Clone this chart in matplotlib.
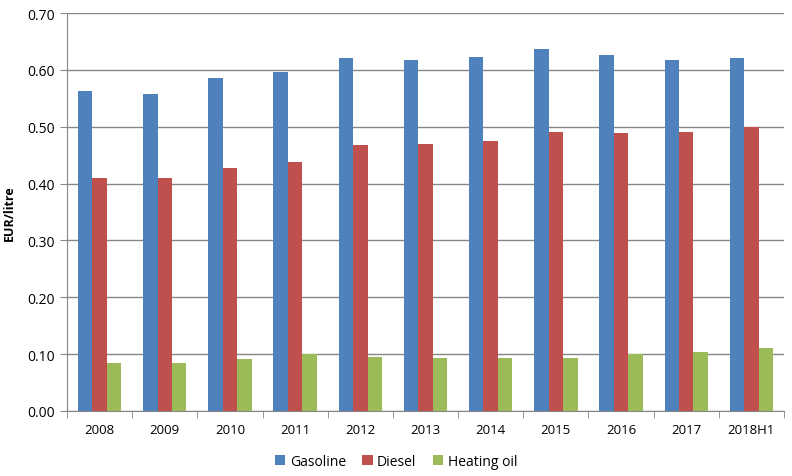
import matplotlib
matplotlib.use("Agg")
import matplotlib.pyplot as plt
import numpy as np

categories = ["2008", "2009", "2010", "2011", "2012", "2013", "2014", "2015", "2016", "2017", "2018H1"]
gasoline = [0.563, 0.558, 0.586, 0.597, 0.621, 0.617, 0.623, 0.637, 0.626, 0.617, 0.621]
diesel = [0.410, 0.410, 0.428, 0.438, 0.468, 0.470, 0.475, 0.491, 0.489, 0.491, 0.500]
heating_oil = [0.085, 0.085, 0.092, 0.100, 0.095, 0.094, 0.094, 0.094, 0.100, 0.104, 0.111]
series_names = ["Gasoline", "Diesel", "Heating oil"]
colors = ["#4F81BD", "#C0504D", "#9BBB59"]

plt.rcParams['font.family'] = ['Open Sans', 'DejaVu Sans']

fig = plt.figure(figsize=(7.92, 4.77), dpi=100)
ax = fig.add_axes([67/792, 65/477, (784-67)/792, (412-14)/477])

x = np.arange(len(categories))
w = 0.222
for i, (vals, name, c) in enumerate(zip([gasoline, diesel, heating_oil], series_names, colors)):
    ax.bar(x + (i - 1) * w, vals, width=w, color=c, label=name, zorder=3)

ax.set_xlim(-0.5, len(categories) - 0.5)
ax.set_ylim(0, 0.70)
ax.set_yticks(np.arange(0, 0.71, 0.10))
ax.set_yticklabels([f"{v:.2f}" for v in np.arange(0, 0.71, 0.10)], fontsize=10)
ax.set_xticks(x)
ax.set_xticklabels(categories, fontsize=9.5)
ax.set_xticks(np.arange(-0.5, len(categories), 1), minor=True)
ax.tick_params(axis='x', which='major', length=0, pad=9)
ax.tick_params(axis='x', which='minor', length=5, color='#868686', direction='out')
ax.tick_params(axis='y', length=5, color='#868686', direction='out', pad=4)
ax.yaxis.grid(True, color='#868686', linewidth=1, zorder=0)
for s in ['top', 'right']:
    ax.spines[s].set_visible(False)
for s in ['left', 'bottom']:
    ax.spines[s].set_color('#868686')
ax.set_ylabel("EUR/litre", fontsize=9, fontweight='bold', labelpad=8)

ax.legend(loc='center', bbox_to_anchor=(0.459, -0.126), ncol=3, frameon=False,
          fontsize=10, handlelength=0.75, handleheight=0.75, handletextpad=0.3, columnspacing=1.2)

fig.savefig("out.png", dpi=100)
